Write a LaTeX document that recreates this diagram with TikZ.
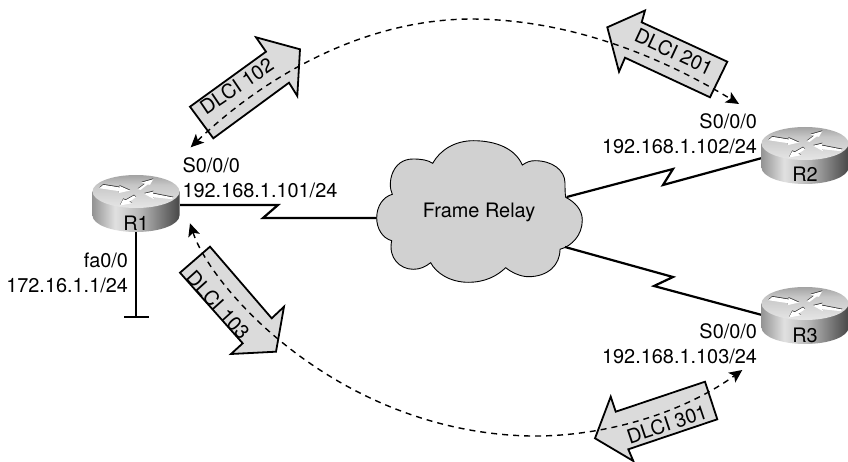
\documentclass[tikz,border=0pt]{standalone}
\usepackage{fontspec}
\setmainfont{TeX Gyre Heros}
\usetikzlibrary{arrows.meta}
\pgfdeclarehorizontalshading{rbody}{100bp}{color(0bp)=(black!42); color(25bp)=(black!42); color(38bp)=(black!12); color(52bp)=(black!28); color(75bp)=(black!72); color(100bp)=(black!72)}
\pgfdeclareverticalshading{rtop}{100bp}{color(0bp)=(black!10); color(25bp)=(black!10); color(60bp)=(black!22); color(75bp)=(black!36); color(100bp)=(black!36)}
\tikzset{
  every node/.style={font=\fontsize{19.9}{25}\selectfont,inner sep=0pt,outer sep=0pt,text=black},
  routerbox/.style={minimum width=87pt,minimum height=57pt,draw=none},
  iflabel/.style={align=left,anchor=base west},
  iflabelr/.style={align=right,anchor=base east},
  link/.style={line width=2.2pt,draw=black,line join=miter},
  stub/.style={line width=2.2pt,draw=black},
  pvcarrow/.style={fill=black!14,draw=black,line width=1.8pt,line join=miter},
  pvc/.style={draw=black,line width=1.4pt,dash pattern=on 6pt off 5pt,{Stealth[length=13pt,width=12pt,inset=3pt]}-{Stealth[length=13pt,width=12pt,inset=3pt]}},
  cloudshape/.style={fill=black!18,draw=black,line width=0.9pt},
  iconarrow/.style={fill=white},
  iconedge/.style={fill=black!80,yshift=0.8pt}
}
\newcommand{\iconpoly}[1]{\fill[iconedge] #1 -- cycle; \fill[iconarrow] #1 -- cycle;}
\newcommand{\routericon}[2]{%
  \begin{scope}[shift={(#1,#2)}]
    \shade[shading=rbody] (-43.5,0) -- (-43.5,24) .. controls (-43.5,33.1) and (-24,40.5) .. (0,40.5) .. controls (24,40.5) and (43.5,33.1) .. (43.5,24) -- (43.5,0) -- cycle;
    \shade[shading=rtop] (0,0) ellipse [x radius=43.5,y radius=16.5];
    \iconpoly{(-32.7,-6.7) -- (-16,-4) -- (-16.7,-5.7) -- (-6,-1) -- (-17.7,1.7) -- (-16.7,-0.3) -- (-36.7,-3.3)}
    \iconpoly{(1.7,-2.3) -- (9,-7.7) -- (5.7,-9) -- (17.3,-12.3) -- (14,-6.7) -- (11.7,-7) -- (4.7,-1.7)}
    \iconpoly{(8,2.3) -- (17.3,0) -- (16.7,2) -- (37.3,6) -- (36,7.7) -- (17.3,5.7) -- (18,7.7)}
    \iconpoly{(-2,4) -- (0,5.7) -- (-6.7,10.3) -- (-3.7,11.7) -- (-16,14) -- (-12.7,7.7) -- (-10.3,8.7)}
  \end{scope}}
\begin{document}
\begin{tikzpicture}[x=1pt,y=-1pt]
\useasboundingbox (0,0) rectangle (848,462);
% cloud
\draw[cloudshape] (391.7,240.7) .. controls (382,238) and (376.7,228) .. (376.7,218)
  .. controls (376.7,206) and (383,197) .. (392.3,194.3)
  .. controls (387,183) and (392,159) .. (413,159)
  .. controls (421,159) and (428,160) .. (432.7,163.3)
  .. controls (440,150) and (455,140.7) .. (473.3,140.7)
  .. controls (495,140.7) and (515,148) .. (522.3,165)
  .. controls (527,162) and (530,160.7) .. (535,160.7)
  .. controls (552,160.7) and (565,170) .. (565,183)
  .. controls (565,188) and (565,193) .. (565.7,197.3)
  .. controls (575,202) and (582.3,210) .. (582.3,220)
  .. controls (582.3,235) and (572,246) .. (560,249.3)
  .. controls (560,265) and (548,276.7) .. (528.3,276.7)
  .. controls (520,276.7) and (511,272) .. (505.7,267.7)
  .. controls (497,276) and (485,282.3) .. (468.3,282.3)
  .. controls (450,282.3) and (436,273) .. (430.7,262.7)
  .. controls (425,267) and (420,269.3) .. (413.3,269.3)
  .. controls (400,269.3) and (388,258) .. (391.7,240.7) -- cycle;
\node[anchor=base] (FR) at (479,218) {Frame Relay};
\coordinate (cloudW) at (376.7,218);
\coordinate (cloudNE) at (566.7,197);
\coordinate (cloudSE) at (565,247);
% serial links
\coordinate (r1port) at (180,205);
\coordinate (r2port) at (762,158);
\coordinate (r3port) at (762,315);
\draw[link] (r1port) -- (278,205) -- (263,218) -- (cloudW);
\draw[link] (cloudNE) -- (673,169) -- (663,185) -- (r2port);
\draw[link] (cloudSE) -- (673,277) -- (654,286) -- (r3port);
% LAN stub
\coordinate (lanend) at (136,316.7);
\draw[stub] (136,232) -- (lanend);
\draw[stub] (124,316.7) -- (149,316.7);
% routers
\routericon{136}{191.5}
\routericon{805}{143.5}
\routericon{805}{303.5}
\node[routerbox] (R1) at (136,203.5) {};
\node[routerbox] (R2) at (805,155.5) {};
\node[routerbox] (R3) at (805,315.5) {};
\node[anchor=base] (R1name) at (136,231) {R1};
\node[anchor=base] (R2name) at (805,182) {R2};
\node[anchor=base] (R3name) at (805,342) {R3};
% labels
\node[iflabel] (l1) at (182.5,198) {S0/0/0\\192.168.1.101/24};
\node[iflabelr] (l2) at (757,154) {S0/0/0\\192.168.1.102/24};
\node[iflabelr] (l3) at (757,363) {S0/0/0\\192.168.1.103/24};
\node[iflabelr] (l4) at (128,292) {fa0/0\\172.16.1.1/24};
% block arrows
\draw[pvcarrow] (190,106.7) -- (213.3,138.3) -- (289,82.7) -- (297.3,96) -- (300,49.3) -- (256,37.3) -- (266,51.7) -- cycle;
\draw[pvcarrow] (607.3,27.3) -- (645,10.5) -- (641.7,22.3) -- (727.3,61.7) -- (710,97.3) -- (625,57.7) -- (619,71.7) -- cycle;
\draw[pvcarrow] (210,246.7) -- (180,272.7) -- (242.7,343.3) -- (231,354) -- (276,351.7) -- (284,306.7) -- (271.7,318.3) -- cycle;
\draw[pvcarrow] (595,438.3) -- (610.7,396.7) -- (615.7,411.7) -- (705,381.7) -- (717.3,419.3) -- (628.3,449.3) -- (633.3,461) -- cycle;
\node[rotate=34] (d102) at (236.7,86) {DLCI 102};
\node[rotate=-25] (d201) at (674,51.7) {DLCI 201};
\node[rotate=-48] (d103) at (218,305) {DLCI 103};
\node[rotate=18.5] (d301) at (667,424) {DLCI 301};
% PVC curves
\coordinate (pvcA) at (190.7,147.3);
\coordinate (pvcB) at (739,104);
\coordinate (pvcC) at (190,223.3);
\coordinate (pvcD) at (742.3,370);
\draw[pvc] (pvcA) .. controls (250,90) and (350,20) .. (470,19) .. controls (560,19) and (650,50) .. (pvcB);
\draw[pvc] (pvcC) .. controls (212,290) and (340,432) .. (530,436) .. controls (600,437) and (680,415) .. (pvcD);
\end{tikzpicture}
\end{document}
